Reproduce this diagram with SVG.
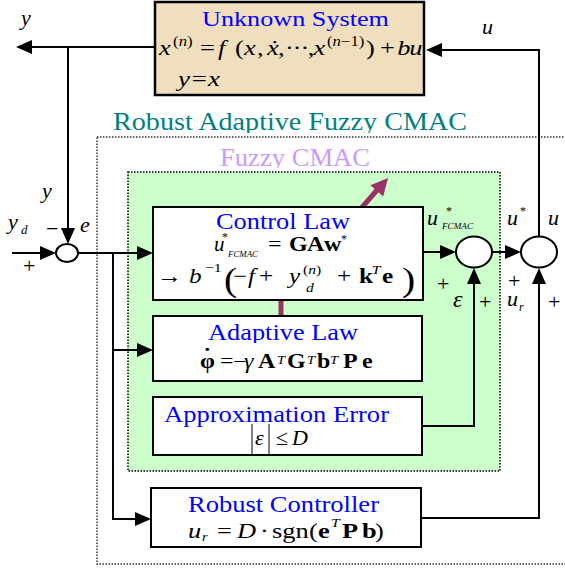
<svg xmlns="http://www.w3.org/2000/svg" width="565" height="570" viewBox="0 0 565 570">
<style>
text { font-family: "Liberation Serif", "Times New Roman", Times, serif; fill: #000; }
.i { font-style: italic; }
.b { font-weight: bold; }
.blue { fill: #0000ff; }
.box { fill: #ffffff; stroke: #000; stroke-width: 2; }
.ln { fill: none; stroke: #000; stroke-width: 2; }
.sum { fill: #ffffff; stroke: #000; stroke-width: 2; }
.dot { fill: none; stroke: #333; stroke-width: 1.5; stroke-dasharray: 1.5 1.5; }
</style>
<defs>
<marker id="arr" viewBox="0 0 16 14" refX="2" refY="7" markerWidth="16" markerHeight="14" markerUnits="userSpaceOnUse" orient="auto">
<path d="M0,0 L16,7 L0,14 z" fill="#000"/>
</marker>
<clipPath id="c1"><rect x="0" y="100" width="565" height="33"/></clipPath>
<clipPath id="c2"><rect x="0" y="140" width="565" height="28"/></clipPath>
<clipPath id="c3"><rect x="0" y="310" width="565" height="33"/></clipPath>
</defs>
<rect width="565" height="570" fill="#ffffff"/>

<!-- regions -->
<g id="outer-region">
<rect class="dot" x="97" y="137" width="480" height="427"/>
<text x="113" y="130" font-size="25" style="fill:#008080" textLength="354" lengthAdjust="spacingAndGlyphs" clip-path="url(#c1)">Robust Adaptive Fuzzy CMAC</text>
</g>
<g id="fuzzy-cmac-region">
<rect x="128" y="172" width="372" height="299" fill="#ccffcc" stroke="#000" stroke-width="1.5" stroke-dasharray="1.5 1.5"/>
<text x="220" y="166" font-size="25" style="fill:#cc99ff" textLength="150" lengthAdjust="spacingAndGlyphs" clip-path="url(#c2)">Fuzzy CMAC</text>
</g>

<!-- connectors -->
<g id="connectors">
<path class="ln" d="M156 47 H30" marker-end="url(#arr)"/>
<path class="ln" d="M68 47 V230" marker-end="url(#arr)"/>
<path class="ln" d="M12 253 H42" marker-end="url(#arr)"/>
<path class="ln" d="M78 253 H139" marker-end="url(#arr)"/>
<path class="ln" d="M113 253 V519 H137" marker-end="url(#arr)"/>
<path class="ln" d="M113 350 H139" marker-end="url(#arr)"/>
<path class="ln" d="M423 252 H442" marker-end="url(#arr)"/>
<path class="ln" d="M492 252 H507" marker-end="url(#arr)"/>
<path class="ln" d="M539 236 V50 H440" marker-end="url(#arr)"/>
<path class="ln" d="M422 426 H474 V282" marker-end="url(#arr)"/>
<path class="ln" d="M421 518 H539 V282" marker-end="url(#arr)"/>
<path d="M281 316 V300 L378 189" fill="none" stroke="#993366" stroke-width="5"/>
<polygon points="388,178 383.2,196.4 370.4,185.2" fill="#993366"/>
</g>

<!-- signal labels -->
<g id="labels">
<text x="21" y="25" font-size="22" class="i">y</text>
<text x="482" y="34" font-size="22" class="i">u</text>
<text x="42" y="198" font-size="22" class="i">y</text>
<text x="8" y="229" font-size="22" class="i">y</text>
<text x="21" y="234" font-size="13" class="i">d</text>
<text x="46" y="236" font-size="22">−</text>
<text x="80" y="232" font-size="22" class="i">e</text>
<text x="23" y="273" font-size="22">+</text>
<text x="427" y="225" font-size="22" class="i">u</text>
<text x="446" y="215" font-size="12">*</text>
<text x="442" y="229" font-size="8" class="i" textLength="31" lengthAdjust="spacingAndGlyphs">FCMAC</text>
<text x="437" y="291" font-size="22">+</text>
<text x="453" y="307" font-size="24" class="i">ε</text>
<text x="479" y="309" font-size="22">+</text>
<text x="507" y="225" font-size="22" class="i">u</text>
<text x="520" y="215" font-size="12">*</text>
<text x="548" y="225" font-size="22" class="i">u</text>
<text x="508" y="288" font-size="22">+</text>
<text x="507" y="306" font-size="22" class="i">u</text>
<text x="519" y="311" font-size="12" class="i">r</text>
<text x="548" y="309" font-size="22">+</text>
</g>

<!-- nodes -->
<g id="unknown-system">
<rect x="155" y="2" width="269" height="93" fill="#efdfbf" stroke="#000" stroke-width="2.5"/>
<text x="202" y="26" font-size="22" class="blue" textLength="187" lengthAdjust="spacingAndGlyphs">Unknown System</text>
<text font-size="22" transform="matrix(1.2 0 0 1 -31.8 0)">
<tspan x="159" y="55" class="i">x</tspan>
<tspan x="170.7" y="46" font-size="14">(</tspan><tspan y="46" font-size="14" class="i">n</tspan><tspan y="46" font-size="14">)</tspan>
<tspan x="193.2" y="55">=</tspan>
<tspan x="208.2" y="55" class="i">f</tspan>
<tspan x="222.3" y="55">(</tspan>
<tspan x="229.8" y="55" class="i">x</tspan>
<tspan x="240.7" y="55">,</tspan>
<tspan x="249" y="55" class="i">ẋ</tspan>
<tspan x="258.2" y="55">,</tspan>
<tspan x="264 270.5 277" y="55">···</tspan>
<tspan x="283" y="55">,</tspan>
<tspan x="287.8" y="55" class="i">x</tspan>
<tspan x="299" y="46" font-size="14">(</tspan><tspan y="46" font-size="14" class="i">n</tspan><tspan y="46" font-size="14">−1)</tspan>
<tspan x="331.5" y="55">)</tspan>
<tspan x="343.2" y="55">+</tspan>
<tspan x="357.5" y="55" class="i">b</tspan>
<tspan x="367.5" y="55" class="i">u</tspan>
</text>
<text x="178" y="86" font-size="22" class="i" textLength="42" lengthAdjust="spacingAndGlyphs">y=x</text>
</g>

<g id="control-law">
<rect class="box" x="153" y="207" width="270" height="93"/>
<text x="216" y="229" font-size="24" class="blue" textLength="134" lengthAdjust="spacingAndGlyphs">Control Law</text>
<text x="214" y="251" font-size="21" class="i">u</text>
<text x="222" y="241" font-size="12">*</text>
<text x="228" y="257" font-size="8" class="i" textLength="30" lengthAdjust="spacingAndGlyphs">FCMAC</text>
<text font-size="20" transform="matrix(1.2 0 0 1 -42.8 0)">
<tspan x="259" y="251">=</tspan>
<tspan x="276.5 291.5 305.7" y="251" class="b">GAw</tspan>
</text>
<text x="341" y="243" font-size="12">*</text>
<text font-size="21" transform="matrix(1.2 0 0 1 -31.4 0)">
<tspan x="157" y="283">→</tspan>
<tspan x="183.7" y="283" class="i">b</tspan>
<tspan x="197" y="272" font-size="13">−1</tspan>
<tspan x="212.8" y="291" font-size="33">(</tspan>
<tspan x="220.3" y="283">−</tspan>
<tspan x="232.8" y="283" class="i">f</tspan>
<tspan x="242" y="283">+</tspan>
<tspan x="267" y="283" class="i">y</tspan>
<tspan x="278.7" y="274" font-size="13">(</tspan><tspan y="274" font-size="13" class="i">n</tspan><tspan y="274" font-size="13">)</tspan>
<tspan x="281.2" y="292" font-size="13" class="i">d</tspan>
<tspan x="307" y="283">+</tspan>
<tspan x="325.3" y="283" class="b">k</tspan>
<tspan x="336" y="274" font-size="13" class="i">T</tspan>
<tspan x="344.5" y="283" class="b">e</tspan>
<tspan x="361.2" y="291" font-size="33">)</tspan>
</text>
</g>

<g id="adaptive-law">
<rect class="box" x="153" y="316" width="269" height="65"/>
<text x="208" y="340" font-size="24" class="blue" textLength="150" lengthAdjust="spacingAndGlyphs" clip-path="url(#c3)">Adaptive Law</text>
<text font-size="20" transform="matrix(1.2 0 0 1 -40 0)">
<tspan x="200" y="368" class="b">φ</tspan>
<tspan x="202.8" y="363" class="b">˙</tspan>
<tspan x="216.7" y="368">=</tspan>
<tspan x="227.5" y="368">−</tspan>
<tspan x="236.7" y="368" class="i">γ</tspan>
<tspan x="248.3" y="368" class="b">A</tspan>
<tspan x="264.2" y="364" font-size="12" class="i">T</tspan>
<tspan x="272.5" y="368" class="b">G</tspan>
<tspan x="289.2" y="364" font-size="12" class="i">T</tspan>
<tspan x="297.5" y="368" class="b">b</tspan>
<tspan x="308.3" y="364" font-size="12" class="i">T</tspan>
<tspan x="319.2" y="368" class="b">P</tspan>
<tspan x="335" y="368" class="b">e</tspan>
</text>
</g>

<g id="approximation-error">
<rect class="box" x="153" y="397" width="269" height="58"/>
<text x="164" y="422" font-size="24" class="blue" textLength="225" lengthAdjust="spacingAndGlyphs">Approximation Error</text>
<line x1="252" y1="424" x2="252" y2="454" stroke="#000" stroke-width="1"/>
<line x1="269" y1="424" x2="269" y2="454" stroke="#000" stroke-width="1"/>
<text font-size="22">
<tspan x="255" y="445" class="i">ε</tspan>
<tspan x="276" y="445">≤</tspan>
<tspan x="292" y="445" class="i">D</tspan>
</text>
</g>

<g id="robust-controller">
<rect class="box" x="151" y="488" width="270" height="59"/>
<text x="188" y="512" font-size="24" class="blue" textLength="191" lengthAdjust="spacingAndGlyphs">Robust Controller</text>
<text font-size="22" transform="matrix(1.2 0 0 1 -37.6 0)">
<tspan x="188" y="538" class="i">u</tspan>
<tspan x="199.7" y="541" font-size="12" class="i">r</tspan>
<tspan x="212.2" y="538">=</tspan>
<tspan x="228.8" y="538" class="i">D</tspan>
<tspan x="248" y="538">·</tspan>
<tspan x="258" y="538">sgn</tspan>
<tspan x="288.8" y="538">(</tspan>
<tspan x="296.3" y="538" class="b">e</tspan>
<tspan x="307.2" y="527" font-size="13" class="i">T</tspan>
<tspan x="316.3" y="538" class="b">P</tspan>
<tspan x="333" y="538" class="b">b</tspan>
<tspan x="343.8" y="538">)</tspan>
</text>
</g>

<g id="sum-error"><ellipse class="sum" cx="67" cy="253" rx="11" ry="9"/></g>
<g id="sum-fcmac"><ellipse class="sum" cx="474" cy="252" rx="18" ry="15.5"/></g>
<g id="sum-control"><ellipse class="sum" cx="539" cy="252" rx="18" ry="15.5"/></g>
</svg>
